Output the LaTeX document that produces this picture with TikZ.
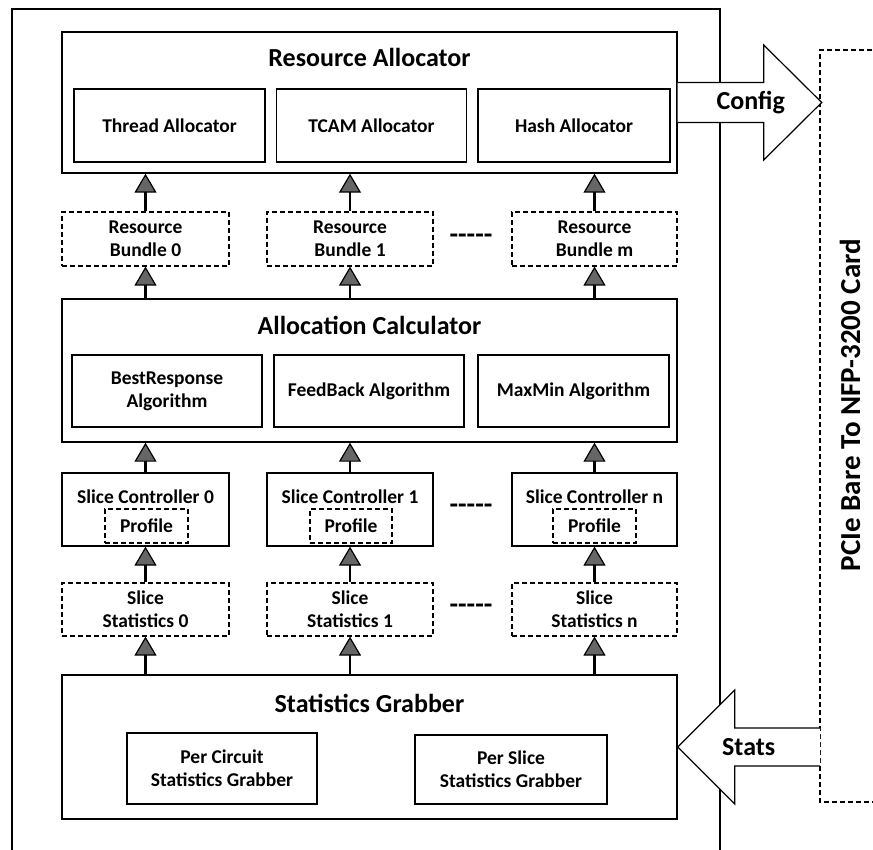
\documentclass[tikz,border=0pt]{standalone}
\usepackage{fontspec}
\setmainfont{Carlito}
\usetikzlibrary{arrows.meta,calc}
\tikzset{
  box/.style={draw, line width=1.2pt, rectangle, inner sep=0pt, align=center,
    font=\fontsize{19.5}{23}\selectfont\bfseries},
  dbox/.style={box, dash pattern=on 5pt off 3pt},
  bigbox/.style={draw, line width=1.4pt, rectangle, inner sep=0pt},
  title/.style={font=\fontsize{26}{30}\selectfont\bfseries},
  lbl/.style={font=\fontsize{19.5}{23}\selectfont\bfseries, align=center, inner sep=0pt},
  gap/.style={font=\fontsize{28}{30}\selectfont\bfseries, inner sep=0pt},
  up/.style={line width=2.6pt, -{Triangle[length=19pt,width=22pt,fill=black!60,line width=1.2pt]}},
  fat/.style={draw, line width=1.2pt, fill=white, line join=miter},
}
\begin{document}
\begin{tikzpicture}[x=1pt,y=-1pt]
\useasboundingbox (0,0) rectangle (873,850);
\fill[white] (0,0) rectangle (873,850);

% host frame
\draw[line width=1.3pt] (12,850) -- (12,9) -- (720,9) -- (720,850);

% PCIe card
\draw[line width=1.2pt, dash pattern=on 5pt off 3pt] (880,50) -- (820,50) -- (820,802) -- (880,802);
\node[rotate=90, font=\fontsize{29}{32}\selectfont\bfseries] (pcie) at (850,405) {PCIe Bare To NFP-3200 Card};

% Resource Allocator
\node[bigbox, minimum width=615pt, minimum height=141pt] (ra) at (369.5,102.5) {};
\node[title] (rat) at (369.5,57) {Resource Allocator};
\node[box, minimum width=191pt, minimum height=73pt] (ta) at (169.5,125.5) {Thread Allocator};
\node[box, minimum width=190pt, minimum height=73pt] (tc) at (371.5,125.5) {TCAM Allocator};
\node[box, minimum width=192pt, minimum height=73pt] (ha) at (574,125.5) {Hash Allocator};

% Resource bundles
\node[dbox, minimum width=167pt, minimum height=54pt] (b0) at (145.5,239) {Resource\\Bundle 0};
\node[dbox, minimum width=166pt, minimum height=54pt] (b1) at (350,239) {Resource\\Bundle 1};
\node[dbox, minimum width=165pt, minimum height=54pt] (bm) at (594.5,239) {Resource\\Bundle m};
\node[gap] (g1) at (471,239) {-{}-{}-{}-{}-};

% Allocation Calculator
\node[bigbox, minimum width=615pt, minimum height=143pt] (ac) at (369.5,370.5) {};
\node[title] (act) at (369.5,325) {Allocation Calculator};
\node[box, minimum width=190pt, minimum height=72pt] (br) at (167,391) {BestResponse\\Algorithm};
\node[box, minimum width=190pt, minimum height=72pt] (fb) at (369,391) {FeedBack Algorithm};
\node[box, minimum width=191pt, minimum height=72pt] (mm) at (573.5,391) {MaxMin Algorithm};

% Slice controllers
\node[box, minimum width=167pt, minimum height=73pt] (sc0) at (145.5,509.5) {};
\node[box, minimum width=166pt, minimum height=73pt] (sc1) at (350,509.5) {};
\node[box, minimum width=165pt, minimum height=73pt] (scn) at (594.5,509.5) {};
\node[lbl] (sc0t) at (145.5,497) {Slice Controller 0};
\node[lbl] (sc1t) at (350,497) {Slice Controller 1};
\node[lbl] (scnt) at (594.5,497) {Slice Controller n};
\node[dbox, minimum width=83pt, minimum height=34pt] (p0) at (146.5,526) {Profile};
\node[dbox, minimum width=82pt, minimum height=34pt] (p1) at (351,526) {Profile};
\node[dbox, minimum width=83pt, minimum height=34pt] (pn) at (594.5,526) {Profile};
\node[gap] (g2) at (471,509) {-{}-{}-{}-{}-};

% Slice statistics
\node[dbox, minimum width=167pt, minimum height=53pt] (ss0) at (145.5,609.5) {Slice\\Statistics 0};
\node[dbox, minimum width=166pt, minimum height=53pt] (ss1) at (350,609.5) {Slice\\Statistics 1};
\node[dbox, minimum width=165pt, minimum height=53pt] (ssn) at (594.5,609.5) {Slice\\Statistics n};
\node[gap] (g3) at (471,609) {-{}-{}-{}-{}-};

% Statistics Grabber
\node[bigbox, minimum width=615pt, minimum height=144pt] (sg) at (369.5,747) {};
\node[title] (sgt) at (369.5,703) {Statistics Grabber};
\node[box, minimum width=190pt, minimum height=71pt] (pc) at (222,768.5) {Per Circuit\\Statistics Grabber};
\node[box, minimum width=192pt, minimum height=69pt] (ps) at (511,769.5) {Per Slice\\Statistics Grabber};

% upward data flow
\foreach \a/\b in {b0/ra, b1/ra, bm/ra, sc0/ac, sc1/ac, scn/ac, ss0/sc0, ss1/sc1, ssn/scn}
  \draw[up] (\a.north) -- (\a.north |- \b.south);
\foreach \a/\b in {ac/b0, ac/b1, ac/bm, sg/ss0, sg/ss1, sg/ssn}
  \draw[up] (\a.north -| \b.south) -- (\b.south);

% Config arrow to the card
\draw[fat] ($(ra.east)+(0,-20)$) -- ++(86,0) -- ++(0,-37.5) -- ($(ra.east)+(144,0)$)
  -- ($(ra.east)+(86,57.5)$) -- ++(0,-37.5) -- ($(ra.east)+(0,20)$);
\node[title] (cfg) at ($(ra.east)+(73,0)$) {Config};

% Stats arrow from the card
\draw[fat] (820,728) -- ($(sg.east)+(57,-19)$) -- ++(0,-38) -- (sg.east)
  -- ($(sg.east)+(57,57)$) -- ++(0,-38) -- (820,766);
\node[title] (sts) at ($(sg.east)+(71,0)$) {Stats};
\end{tikzpicture}
\end{document}
